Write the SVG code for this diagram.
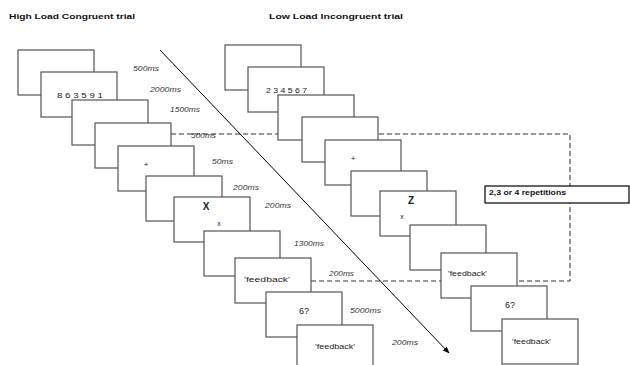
<svg xmlns="http://www.w3.org/2000/svg" width="630" height="365" viewBox="0 0 630 365">
<defs>
<style>
.bx{fill:#fff;stroke:#555;stroke-width:1.2}
.t{font-family:"Liberation Sans",Arial,sans-serif;fill:#222}
.ti{font-family:"Liberation Sans",Arial,sans-serif;font-weight:bold;font-size:7.5px;fill:#111}
.ms{font-family:"Liberation Sans",Arial,sans-serif;font-style:italic;font-size:7px;fill:#333}
.dash{fill:none;stroke:#333;stroke-width:1;stroke-dasharray:5 3}
</style>
<marker id="ah" viewBox="0 0 10 10" refX="9" refY="5" markerWidth="7" markerHeight="7" orient="auto" markerUnits="userSpaceOnUse">
<path d="M0,1 L10,5 L0,9 Z" fill="#000"/>
</marker>
</defs>
<rect width="630" height="365" fill="#fff"/>

<g id="connectors">
<polyline class="dash" points="171,134 570,134 570,281 310,281"/>
<line x1="160" y1="50" x2="449" y2="353" stroke="#000" stroke-width="1" marker-end="url(#ah)"/>
</g>

<g id="titles">
<text class="ti" x="9" y="18.7" textLength="126" lengthAdjust="spacingAndGlyphs">High Load Congruent trial</text>
<text class="ti" x="269" y="18.7" textLength="134" lengthAdjust="spacingAndGlyphs">Low Load Incongruent trial</text>
</g>

<g id="left-trial">
<g id="L1"><rect class="bx" x="18" y="50" width="76" height="45"/></g>
<g id="L2"><rect class="bx" x="41" y="72" width="76" height="45"/><text class="t" x="57" y="97.5" font-size="7" textLength="46" lengthAdjust="spacingAndGlyphs">8 6 3 5 9 1</text></g>
<g id="L3"><rect class="bx" x="72" y="100" width="76" height="45"/></g>
<g id="L4"><rect class="bx" x="95" y="123" width="76" height="45"/></g>
<g id="L5"><rect class="bx" x="118" y="146" width="76" height="45"/><text class="t" x="146" y="167" font-size="8" text-anchor="middle">+</text></g>
<g id="L6"><rect class="bx" x="146" y="176" width="76" height="45"/></g>
<g id="L7"><rect class="bx" x="174" y="197" width="76" height="45"/><text class="t" x="206" y="209.5" font-size="10" font-weight="bold" text-anchor="middle" fill="#111">X</text><text class="t" x="219" y="225.5" font-size="7" text-anchor="middle">x</text></g>
<g id="L8"><rect class="bx" x="204" y="231" width="76" height="45"/></g>
<g id="L9"><rect class="bx" x="235" y="258" width="76" height="45"/><text class="t" x="244" y="281.5" font-size="7" textLength="46" lengthAdjust="spacingAndGlyphs">'feedback'</text></g>
<g id="L10"><rect class="bx" x="266" y="292" width="76" height="45"/><text class="t" x="304" y="314" font-size="9" text-anchor="middle">6?</text></g>
<g id="L11"><rect class="bx" x="297" y="325" width="76" height="45"/><text class="t" x="315" y="348.5" font-size="7" textLength="40" lengthAdjust="spacingAndGlyphs">'feedback'</text></g>
</g>

<g id="timings">
<text class="ms" x="133" y="70.5" textLength="26" lengthAdjust="spacingAndGlyphs">500ms</text>
<text class="ms" x="150" y="91.5" textLength="31" lengthAdjust="spacingAndGlyphs">2000ms</text>
<text class="ms" x="170" y="111.5" textLength="30" lengthAdjust="spacingAndGlyphs">1500ms</text>
<text class="ms" x="191" y="137.5" textLength="25" lengthAdjust="spacingAndGlyphs">500ms</text>
<text class="ms" x="212" y="163.5" textLength="21" lengthAdjust="spacingAndGlyphs">50ms</text>
<text class="ms" x="233" y="189.5" textLength="26" lengthAdjust="spacingAndGlyphs">200ms</text>
<text class="ms" x="265" y="207.5" textLength="26" lengthAdjust="spacingAndGlyphs">200ms</text>
<text class="ms" x="294" y="245.5" textLength="30" lengthAdjust="spacingAndGlyphs">1300ms</text>
<text class="ms" x="329" y="275.5" textLength="25" lengthAdjust="spacingAndGlyphs">200ms</text>
<text class="ms" x="350" y="312.5" textLength="31" lengthAdjust="spacingAndGlyphs">5000ms</text>
<text class="ms" x="392" y="344.5" textLength="26" lengthAdjust="spacingAndGlyphs">200ms</text>
</g>

<g id="right-trial">
<g id="R1"><rect class="bx" x="225" y="45" width="76" height="45"/></g>
<g id="R2"><rect class="bx" x="248" y="67" width="76" height="45"/><text class="t" x="266" y="92.5" font-size="7" textLength="41" lengthAdjust="spacingAndGlyphs">2 3 4 5 6 7</text></g>
<g id="R3"><rect class="bx" x="278" y="95" width="76" height="45"/></g>
<g id="R4"><rect class="bx" x="302" y="117" width="76" height="45"/></g>
<g id="R5"><rect class="bx" x="325" y="140" width="76" height="45"/><text class="t" x="353" y="161" font-size="8" text-anchor="middle">+</text></g>
<g id="R6"><rect class="bx" x="351" y="171" width="76" height="45"/></g>
<g id="R7"><rect class="bx" x="380" y="191" width="76" height="45"/><text class="t" x="411" y="203.5" font-size="10" font-weight="bold" text-anchor="middle" fill="#111">Z</text><text class="t" x="402" y="219" font-size="7" text-anchor="middle">x</text></g>
<g id="R8"><rect class="bx" x="410" y="225" width="76" height="45"/></g>
<g id="R9"><rect class="bx" x="441" y="253" width="76" height="45"/><text class="t" x="448" y="275.5" font-size="7" textLength="39" lengthAdjust="spacingAndGlyphs">'feedback'</text></g>
<g id="R10"><rect class="bx" x="471" y="286" width="76" height="45"/><text class="t" x="510" y="308" font-size="9" text-anchor="middle">6?</text></g>
<g id="R11"><rect class="bx" x="502" y="319" width="76" height="45"/><text class="t" x="512" y="343.5" font-size="7" textLength="39" lengthAdjust="spacingAndGlyphs">'feedback'</text></g>
</g>

<g id="repetitions">
<rect x="485" y="186" width="144" height="17" fill="#fff" stroke="#000" stroke-width="1.2"/>
<text class="ti" x="489" y="194.8" font-size="7" textLength="77" lengthAdjust="spacingAndGlyphs">2,3 or 4 repetitions</text>
</g>
</svg>
